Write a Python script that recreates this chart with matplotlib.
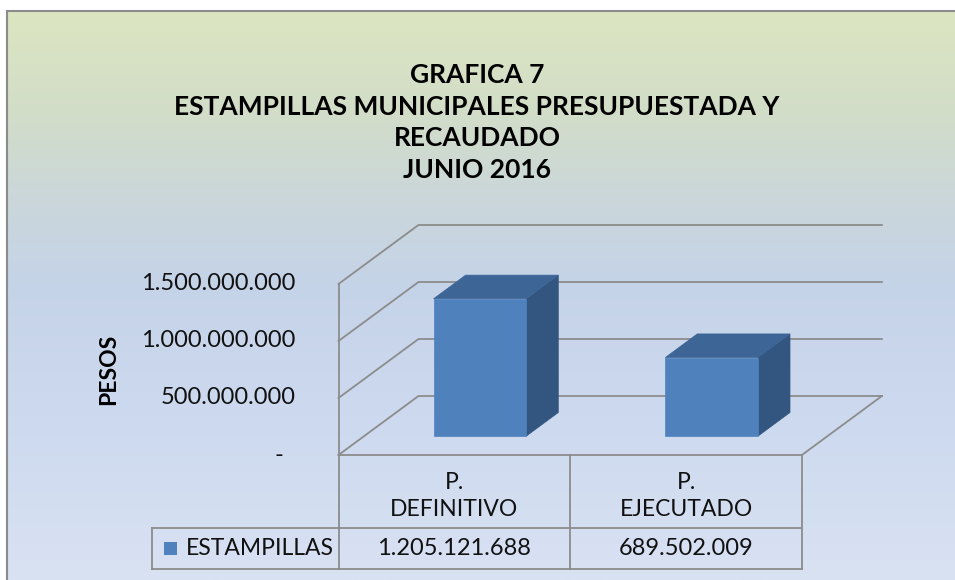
import matplotlib
matplotlib.use("Agg")
import matplotlib.pyplot as plt
import numpy as np
from matplotlib.colors import LinearSegmentedColormap
from matplotlib.patches import Polygon, Rectangle

# data
categories = ["P.\nDEFINITIVO", "P.\nEJECUTADO"]
values = [1205121688, 689502009]
value_labels = ["1.205.121.688", "689.502.009"]
series_name = "ESTAMPILLAS"
ticks = [0, 500000000, 1000000000, 1500000000]
tick_labels = ["-", "500.000.000", "1.000.000.000", "1.500.000.000"]
title_lines = ["GRAFICA 7", "ESTAMPILLAS MUNICIPALES PRESUPUESTADA Y",
               "RECAUDADO", "JUNIO 2016"]
ylabel = "PESOS"

W, H = 955, 580
FONT = "Lato"
plt.rcParams["font.family"] = [FONT, "DejaVu Sans"]

# pixel geometry of the oblique 3d box
X0, Y0 = 338.5, 455          # front-left-bottom corner
CAT_PX = 231.7               # width of one category
VAL_PX = 171                 # height of YMAX
DEPTH_PX, DEPTH_PY = 80, 59  # shift of the back wall
YMAX = 1500000000
BW = 0.40                    # bar width (category units)
D0, D1 = 0.32, 0.72          # bar depth range

GRID = "#8c8c8c"
FRONT = "#4f81bd"
TOP = "#3d6596"
SIDE = "#335680"
TXT = "#111111"


def fx(px):
    return px / W


def fy(py):
    return 1 - py / H


fig = plt.figure(figsize=(W / 100, H / 100), dpi=100, facecolor="white")

# --- background gradient with border top/left ---
bg = fig.add_axes([fx(7), 0, 1 - fx(7), 1 - 11 / H], zorder=-1)
cmap = LinearSegmentedColormap.from_list(
    "bg",
    [(0.0, "#dce5c1"), (0.18, "#d2ddc9"), (0.32, "#cbd7d9"),
     (0.48, "#c5d3e8"), (0.75, "#cedaef"), (1.0, "#d9e2f3")])
grad = np.linspace(0, 1, 256).reshape(-1, 1)
bg.imshow(grad, cmap=cmap, aspect="auto", extent=(0, 1, 0, 1), origin="upper")
bg.set_xlim(0, 1)
bg.set_ylim(0, 1)
bg.set_xticks([])
bg.set_yticks([])
for s in ["right", "bottom"]:
    bg.spines[s].set_visible(False)
for s in ["top", "left"]:
    bg.spines[s].set_color("#8c8c8c")
    bg.spines[s].set_linewidth(1.5)

# --- main axes, data units: categories on x, pesos on y ---
DX = DEPTH_PX / CAT_PX
DY = DEPTH_PY * YMAX / VAL_PX
ax = fig.add_axes([fx(X0), fy(Y0), (2 * CAT_PX + DEPTH_PX) / W, (VAL_PX + DEPTH_PY) / H])
ax.set_xlim(0, len(categories) + DX)
ax.set_ylim(0, YMAX + DY)
ax.axis("off")


def proj(x, v, d):
    return x + d * DX, v + d * DY


def vpx(dp):
    # pixel distance below the floor -> value units
    return -dp * YMAX / VAL_PX


def xpx(dp):
    return dp / CAT_PX


n = len(categories)
lw = 1.3

# gridlines on left wall + back wall
for v in ticks:
    pts = [proj(0, v, 0), proj(0, v, 1), proj(n, v, 1)]
    ax.plot([p[0] for p in pts], [p[1] for p in pts], color=GRID, lw=lw,
            clip_on=False, zorder=1, solid_joinstyle="miter")
# left wall front edge
ax.plot([0, 0], [0, YMAX], color=GRID, lw=lw, clip_on=False, zorder=1)
# floor front + right edge
pts = [proj(0, 0, 0), proj(n, 0, 0), proj(n, 0, 1)]
ax.plot([p[0] for p in pts], [p[1] for p in pts], color=GRID, lw=lw,
        clip_on=False, zorder=1)

# bars
for i, v in enumerate(values):
    x0 = i + 0.5 - BW / 2
    x1 = x0 + BW
    front = [proj(x0, 0, D0), proj(x1, 0, D0), proj(x1, v, D0), proj(x0, v, D0)]
    top = [proj(x0, v, D0), proj(x1, v, D0), proj(x1, v, D1), proj(x0, v, D1)]
    side = [proj(x1, 0, D0), proj(x1, 0, D1), proj(x1, v, D1), proj(x1, v, D0)]
    for poly, c in [(side, SIDE), (top, TOP), (front, FRONT)]:
        ax.add_patch(Polygon(poly, closed=True, facecolor=c, edgecolor=c,
                             lw=0.5, clip_on=False, zorder=3))

# y tick labels
for v, lab in zip(ticks, tick_labels):
    off = -43 if lab != "-" else -55
    ax.annotate(lab, xy=(0, v), xytext=(off * 0.72, 0), textcoords="offset points",
                ha="right", va="center", fontsize=17, color=TXT)

fig.text(fx(109), fy(369), ylabel, rotation=90, ha="center", va="center",
         fontsize=16.5, fontweight="bold", color="black")

# title, one line at a time
for k, line in enumerate(title_lines):
    fig.text(fx(477), fy(75 + k * 31.7), line, ha="center", va="center",
             fontsize=19, fontweight="bold", color="black")

# --- data table under the axis ---
y_head = vpx(73)
y_bot = vpx(114)
x_left = xpx(152 - X0)
for k in range(n + 1):
    ax.plot([k, k], [0, y_bot], color=GRID, lw=lw, clip_on=False, zorder=1)
ax.plot([x_left, n], [y_head, y_head], color=GRID, lw=lw, clip_on=False, zorder=1)
ax.plot([x_left, n], [y_bot, y_bot], color=GRID, lw=lw, clip_on=False, zorder=1)
ax.plot([x_left, x_left], [y_head, y_bot], color=GRID, lw=lw, clip_on=False, zorder=1)

for i, (cat, lab) in enumerate(zip(categories, value_labels)):
    ax.text(i + 0.5, vpx(41), cat, ha="center", va="center", fontsize=16.5,
            linespacing=1.4, color=TXT)
    ax.text(i + 0.5, (y_head + y_bot) / 2, lab, ha="center", va="center",
            fontsize=17, color=TXT)

ymid = (y_head + y_bot) / 2
sq = 13
ax.add_patch(Rectangle((xpx(164 - X0), ymid - sq / 2 * YMAX / VAL_PX),
                       xpx(sq), sq * YMAX / VAL_PX, facecolor=FRONT,
                       edgecolor="none", clip_on=False, zorder=3))
ax.text(xpx(186 - X0), ymid, series_name, ha="left", va="center",
        fontsize=16.5, color=TXT)

fig.savefig("out.png", dpi=100, facecolor="white")
